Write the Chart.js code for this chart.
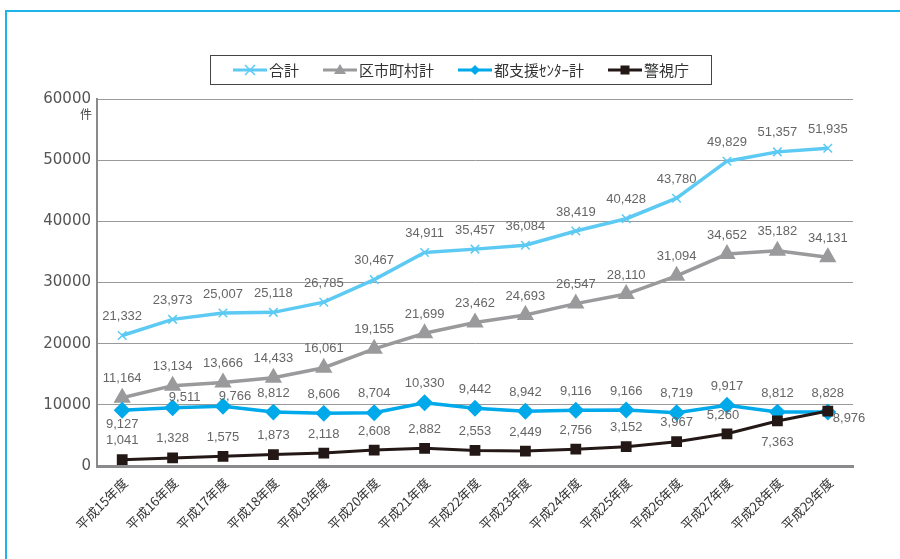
<!DOCTYPE html>
<html>
<head>
<meta charset="utf-8">
<script src="https://cdn.jsdelivr.net/npm/chart.js@4.4.1/dist/chart.umd.min.js"></script>
<style>
  html, body { margin: 0; padding: 0; background: #fff; }
  #wrap { width: 900px; height: 559px; position: relative; }
</style>
</head>
<body>
<div id="wrap"><canvas id="myLineChart"></canvas></div>
<script>
// 年度
var years = ['平成15年度', '平成16年度', '平成17年度', '平成18年度', '平成19年度',
  '平成20年度', '平成21年度', '平成22年度', '平成23年度', '平成24年度',
  '平成25年度', '平成26年度', '平成27年度', '平成28年度', '平成29年度'];

// 件数
var totalCases = [21332, 23973, 25007, 25118, 26785, 30467, 34911, 35457, 36084, 38419, 40428, 43780, 49829, 51357, 51935];
var municipalCases = [11164, 13134, 13666, 14433, 16061, 19155, 21699, 23462, 24693, 26547, 28110, 31094, 34652, 35182, 34131];
var centerCases = [9127, 9511, 9766, 8812, 8606, 8704, 10330, 9442, 8942, 9116, 9166, 8719, 9917, 8812, 8828];
var policeCases = [1041, 1328, 1575, 1873, 2118, 2608, 2882, 2553, 2449, 2756, 3152, 3967, 5260, 7363, 8976];

var seriesNames = ['合計', '区市町村計', '都支援ｾﾝﾀｰ計', '警視庁'];
var yMax = 60000;
var yStep = 10000;

// ラベル位置 (データ以外): [dx, dy] 点からのずれ
var labelShift = {
  2: { 0: [0, 14], 1: [12, -10], 2: [12, -10] },
  3: { 12: [-4, -18], 13: [0, 21], 14: ['right', 7] }
};

var numFont = '"Liberation Sans", sans-serif';
var jpFont = '"Noto Sans CJK JP", sans-serif';

function drawMarker(ctx, style, x, y, color) {
  ctx.save();
  ctx.fillStyle = color;
  ctx.strokeStyle = color;
  ctx.beginPath();
  if (style === 'crossRot') {
    ctx.lineWidth = 1.5;
    ctx.moveTo(x - 5, y - 5); ctx.lineTo(x + 5, y + 5);
    ctx.moveTo(x + 5, y - 5); ctx.lineTo(x - 5, y + 5);
    ctx.stroke();
  } else if (style === 'triangle') {
    ctx.moveTo(x, y - 6); ctx.lineTo(x + 6, y + 4); ctx.lineTo(x - 6, y + 4);
    ctx.closePath(); ctx.fill();
  } else if (style === 'rectRot') {
    ctx.moveTo(x, y - 5); ctx.lineTo(x + 5, y); ctx.lineTo(x, y + 5); ctx.lineTo(x - 5, y);
    ctx.closePath(); ctx.fill();
  } else {
    ctx.fillRect(x - 4.5, y - 4.5, 9, 9);
  }
  ctx.restore();
}

var decorPlugin = {
  id: 'decor',
  beforeDraw: function(chart) {
    var ctx = chart.ctx;
    ctx.save();
    ctx.strokeStyle = '#1db4ec';
    ctx.lineWidth = 2;
    ctx.beginPath();
    ctx.moveTo(6, 559);
    ctx.lineTo(6, 11);
    ctx.lineTo(900, 11);
    ctx.stroke();
    ctx.restore();
  },
  afterDatasetsDraw: function(chart) {
    var ctx = chart.ctx;
    ctx.save();
    ctx.font = '13px ' + numFont;
    ctx.fillStyle = '#666';
    ctx.textBaseline = 'middle';
    chart.data.datasets.forEach(function(ds, i) {
      var meta = chart.getDatasetMeta(i);
      meta.data.forEach(function(pt, j) {
        var txt = ds.data[j].toLocaleString('en-US');
        var s = (labelShift[i] && labelShift[i][j]) || [0, -19];
        if (s[0] === 'right') {
          ctx.textAlign = 'left';
          ctx.fillText(txt, pt.x + 5, pt.y + s[1]);
        } else {
          ctx.textAlign = 'center';
          ctx.fillText(txt, pt.x + s[0], pt.y + s[1]);
        }
      });
    });
    // 単位
    ctx.font = '12px ' + jpFont;
    ctx.fillStyle = '#444';
    ctx.textAlign = 'right';
    ctx.fillText('件', 92, 114);
    ctx.restore();
  },
  afterDraw: function(chart) {
    var ctx = chart.ctx;
    ctx.save();
    ctx.font = '15px ' + jpFont;
    var lineLen = 34, gapText = 2, gapItem = 24;
    var widths = chart.data.datasets.map(function(ds) { return ctx.measureText(ds.label).width; });
    var total = 0;
    widths.forEach(function(w, i) { total += lineLen + gapText + w + (i ? gapItem : 0); });
    var x = 461 - total / 2;
    var cy = 70;
    ctx.strokeStyle = '#444';
    ctx.lineWidth = 1;
    ctx.strokeRect(210.5, 55.5, 501, 29);
    chart.data.datasets.forEach(function(ds, i) {
      ctx.strokeStyle = ds.borderColor;
      ctx.lineWidth = 3;
      ctx.beginPath();
      ctx.moveTo(x, cy); ctx.lineTo(x + lineLen, cy);
      ctx.stroke();
      drawMarker(ctx, ds.pointStyle, x + lineLen / 2, cy, ds.borderColor);
      ctx.fillStyle = '#333';
      ctx.textAlign = 'left';
      ctx.textBaseline = 'middle';
      ctx.fillText(ds.label, x + lineLen + gapText, cy);
      x += lineLen + gapText + widths[i] + gapItem;
    });
    ctx.restore();
  }
};

document.addEventListener("DOMContentLoaded", function() {
  var ctx = document.getElementById("myLineChart").getContext('2d');
  new Chart(ctx, {
    type: 'line',
    data: {
      labels: years,
      datasets: [{
        label: seriesNames[0],
        data: totalCases,
        borderColor: '#5ccaf2',
        backgroundColor: '#5ccaf2',
        borderWidth: 3.5,
        pointStyle: 'crossRot',
        pointRadius: 6,
        pointBorderWidth: 1.5,
        order: 3
      }, {
        label: seriesNames[1],
        data: municipalCases,
        borderColor: '#9a9a9c',
        backgroundColor: '#9a9a9c',
        borderWidth: 3.5,
        pointStyle: 'triangle',
        pointRadius: 6.5,
        order: 2
      }, {
        label: seriesNames[2],
        data: centerCases,
        borderColor: '#00a9ea',
        backgroundColor: '#00a9ea',
        borderWidth: 3.5,
        pointStyle: 'rectRot',
        pointRadius: 6,
        order: 1
      }, {
        label: seriesNames[3],
        data: policeCases,
        borderColor: '#231815',
        backgroundColor: '#231815',
        borderWidth: 3,
        pointStyle: 'rect',
        pointRadius: 5.5,
        order: 0
      }]
    },
    options: {
      responsive: true,
      maintainAspectRatio: false,
      animation: false,
      layout: { padding: { top: 99, right: 47, left: 0, bottom: 0 } },
      elements: { line: { tension: 0 } },
      plugins: {
        legend: { display: false },
        title: { display: false },
        tooltip: { enabled: false }
      },
      scales: {
        x: {
          offset: true,
          afterFit: function(scale) { scale.height = 93; },
          grid: { display: false, drawTicks: false },
          border: { display: true, color: '#8a8a8c', width: 3 },
          ticks: {
            autoSkip: false,
            minRotation: 45,
            maxRotation: 45,
            padding: 9,
            labelOffset: 3,
            color: '#333',
            font: { family: jpFont, size: 13 }
          }
        },
        y: {
          min: 0,
          max: yMax,
          afterFit: function(scale) { scale.width = 97; },
          grid: { color: '#9a9a9a', lineWidth: 1, drawTicks: false },
          border: { display: true, color: '#8a8a8c', width: 2 },
          ticks: {
            stepSize: yStep,
            padding: 6,
            color: '#555',
            font: { family: '"DejaVu Sans", sans-serif', size: 15 },
            callback: function(v) { return String(v); }
          }
        }
      }
    },
    plugins: [decorPlugin]
  });
});
</script>
</body>
</html>
